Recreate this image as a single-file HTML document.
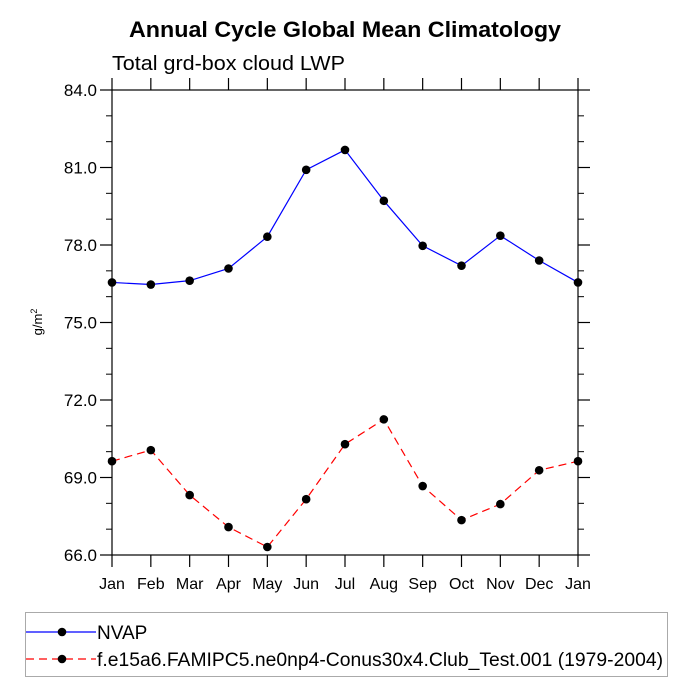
<!DOCTYPE html>
<html><head><meta charset="utf-8"><style>
body{margin:0;background:#fff;}
svg{display:block;font-family:"Liberation Sans",sans-serif;}
</style></head><body>
<svg id="chart" width="689" height="689" viewBox="0 0 689 689" xmlns="http://www.w3.org/2000/svg">
<text x="129" y="37" textLength="432" lengthAdjust="spacingAndGlyphs" font-size="22" font-weight="bold">Annual Cycle Global Mean Climatology</text>
<text x="112" y="70" textLength="233" lengthAdjust="spacingAndGlyphs" font-size="20">Total grd-box cloud LWP</text>
<text transform="translate(42,322) rotate(-90)" text-anchor="middle" font-size="13">g/m<tspan dy="-5" font-size="9">2</tspan></text>
<g id="axes"></g>
<g id="series"></g>
<g>
<rect x="25.5" y="612.5" width="642" height="64" fill="none" stroke="#aaa" stroke-width="1"/>
<line x1="26" y1="632" x2="96" y2="632" stroke="#0000ff" stroke-width="1.2"/>
<circle cx="62" cy="632" r="4.3" fill="#000"/>
<text x="97" y="639" font-size="19">NVAP</text>
<line x1="26" y1="659" x2="96" y2="659" stroke="#ff0000" stroke-width="1.2" stroke-dasharray="8,5"/>
<circle cx="62" cy="659" r="4.3" fill="#000"/>
<text x="97" y="666" textLength="566" lengthAdjust="spacingAndGlyphs" font-size="19">f.e15a6.FAMIPC5.ne0np4-Conus30x4.Club_Test.001 (1979-2004)</text>
</g>
</svg>
<script>
const months=["Jan","Feb","Mar","Apr","May","Jun","Jul","Aug","Sep","Oct","Nov","Dec","Jan"];
const nvap=[76.55,76.47,76.62,77.09,78.32,80.91,81.68,79.71,77.97,77.2,78.36,77.4,76.55];
const model=[69.63,70.06,68.32,67.08,66.31,68.16,70.29,71.25,68.67,67.35,67.97,69.28,69.63];
const yTicks=["66.0","69.0","72.0","75.0","78.0","81.0","84.0"];
const X0=112,X1=578,Y0=555,Y1=90,YMIN=66,YMAX=84;
const xs=i=>X0+(X1-X0)*i/(months.length-1);
const ys=v=>Y0-(Y0-Y1)*(v-YMIN)/(YMAX-YMIN);
const NS="http://www.w3.org/2000/svg";
const axes=document.getElementById('axes'),ser=document.getElementById('series');
function mk(tag,attrs,parent){const e=document.createElementNS(NS,tag);for(const k in attrs)e.setAttribute(k,attrs[k]);parent.appendChild(e);return e;}
const frame=mk('rect',{x:X0,y:Y1,width:X1-X0,height:Y0-Y1,fill:'none',stroke:'#000','stroke-width':1.2},axes);


months.forEach((m,i)=>{
  const x=xs(i);
  mk('line',{x1:x,y1:Y0,x2:x,y2:Y0+12,stroke:'#000','stroke-width':1.2},axes);
  mk('line',{x1:x,y1:Y1,x2:x,y2:Y1-12,stroke:'#000','stroke-width':1.2},axes);
  const t=mk('text',{x:x,y:Y0+34,'text-anchor':'middle','font-size':16},axes);
  t.textContent=m;
  
  
});
yTicks.forEach((lab,i)=>{
  const y=ys(parseFloat(lab));
  mk('line',{x1:X0-12,y1:y,x2:X0,y2:y,stroke:'#000','stroke-width':1.2},axes);
  mk('line',{x1:X1,y1:y,x2:X1+12,y2:y,stroke:'#000','stroke-width':1.2},axes);
  if(i<yTicks.length-1){for(let k=1;k<3;k++){const ym=ys(parseFloat(lab)+k);
    mk('line',{x1:X0-6,y1:ym,x2:X0,y2:ym,stroke:'#000','stroke-width':1},axes);
    mk('line',{x1:X1,y1:ym,x2:X1+6,y2:ym,stroke:'#000','stroke-width':1},axes);}}
  const t=mk('text',{x:X0-15,y:y+6,'text-anchor':'end','font-size':17},axes);
  t.textContent=lab;
  
  
});
function series(vals,color,dash,name){
  const p=mk('polyline',{points:vals.map((v,i)=>xs(i)+','+ys(v)).join(' '),fill:'none',stroke:color,'stroke-width':1.2,'stroke-dasharray':dash},ser);
  
  
  vals.forEach((v,i)=>{const c=mk('circle',{cx:xs(i),cy:ys(v),r:4.3,fill:'#000'},ser);
    
    });
}
series(nvap,'#0000ff','none','nvap');
series(model,'#ff0000','8,5','model');
</script>
</body></html>
